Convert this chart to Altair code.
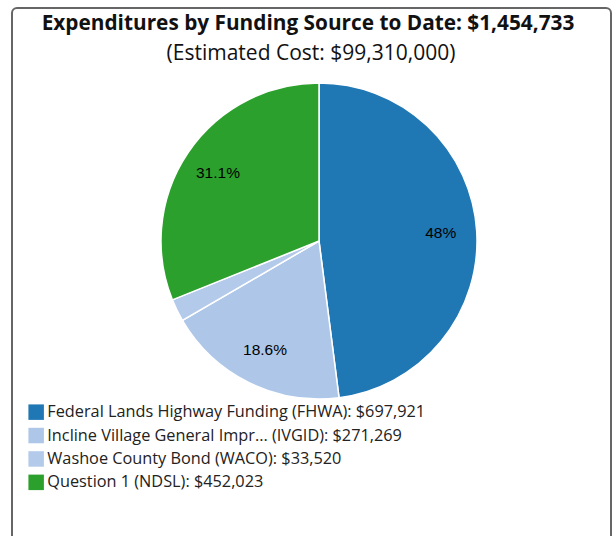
import altair as alt
import pandas as pd

sources = [
    "Federal Lands Highway Funding (FHWA): $697,921",
    "Incline Village General Impr... (IVGID): $271,269",
    "Washoe County Bond (WACO): $33,520",
    "Question 1 (NDSL): $452,023",
]
amounts = [697921, 271269, 33520, 452023]
colors = ["#1f77b4", "#aec7e8", "#b3caea", "#2ca02c"]
title_text = "Expenditures by Funding Source to Date: $1,454,733"
subtitle_text = "(Estimated Cost: $99,310,000)"

total = sum(amounts)
labels = []
for a in amounts:
    p = round(a / total * 100, 1)
    if p < 5:
        labels.append("")
    elif p == int(p):
        labels.append(f"{int(p)}%")
    else:
        labels.append(f"{p}%")

df = pd.DataFrame({"source": sources, "amount": amounts, "label": labels, "idx": list(range(len(sources)))})

cx, cy = 307, 233

base = alt.Chart(df).encode(
    theta=alt.Theta("amount:Q", stack=True),
    order=alt.Order("idx:Q"),
)

pie = base.mark_arc(radius=158, stroke="white", strokeWidth=1.5).encode(
    x=alt.value(cx),
    y=alt.value(cy),
    color=alt.Color(
        "source:N",
        scale=alt.Scale(domain=sources, range=colors),
        legend=alt.Legend(
            title=None,
            orient="none",
            legendX=16,
            legendY=396,
            symbolType="square",
            symbolSize=240,
            symbolStrokeWidth=0,
            symbolOpacity=1,
            labelFont="Open Sans",
            labelFontSize=16.3,
            labelColor="#222",
            labelLimit=600,
            labelOffset=3,
            rowPadding=6.4,
        ),
    ),
)

text = base.mark_text(radius=122, font="Liberation Sans", fontSize=15.5, color="black").encode(
    x=alt.value(cx),
    y=alt.value(cy),
    text="label:N",
)

tdf = pd.DataFrame({"t": [title_text], "s": [subtitle_text]})
title = alt.Chart(tdf).mark_text(font="Open Sans", fontSize=20.8, fontWeight="bold", color="#111", baseline="middle", align="center").encode(
    x=alt.value(296), y=alt.value(16), text="t:N"
)
subtitle = alt.Chart(tdf).mark_text(font="Open Sans", fontSize=21, color="#111", baseline="middle", align="center").encode(
    x=alt.value(299), y=alt.value(46), text="s:N"
)

chart = alt.layer(pie, text, title, subtitle).properties(
    width=599,
    height=560,
    autosize=alt.AutoSizeParams(type="none"),
    padding={"left": 12, "top": 8, "right": 5, "bottom": 0},
).configure_view(
    stroke="#666",
    strokeWidth=2,
    cornerRadius=5,
)

chart.save("out.html", embed_options={"renderer": "svg", "actions": False})
